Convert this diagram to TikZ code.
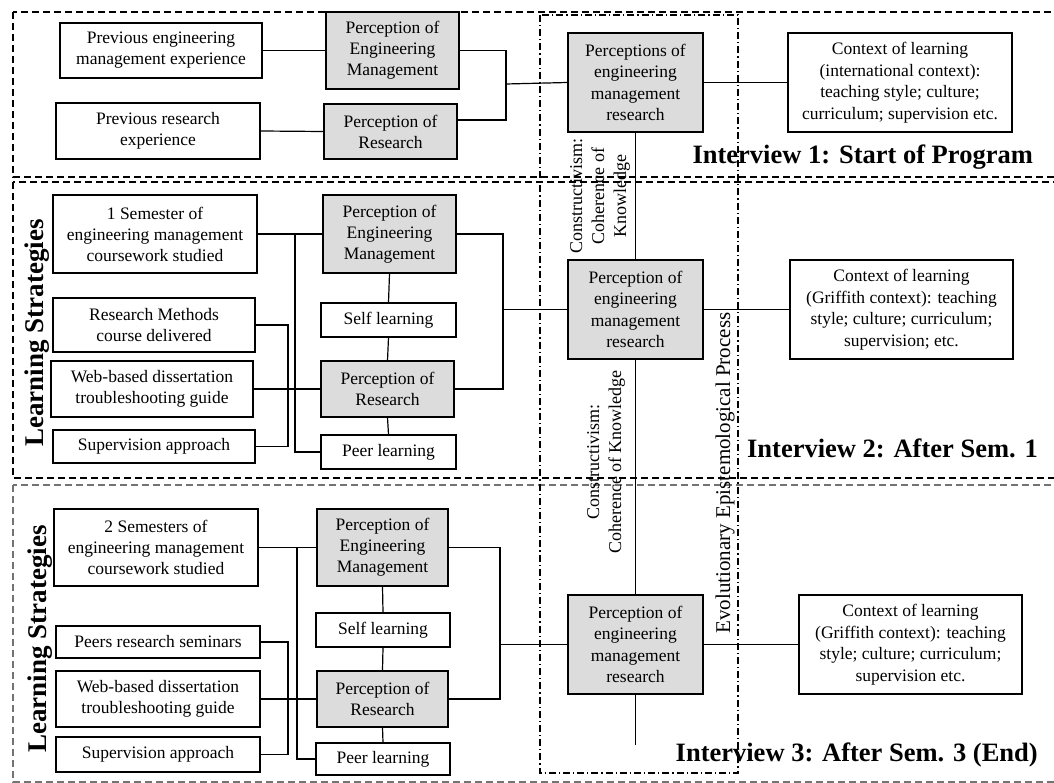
\documentclass[tikz,border=0pt]{standalone}
\usepackage{fontspec}
\setmainfont{Liberation Serif}
\definecolor{boxgray}{RGB}{220,220,220}
\begin{document}
\begin{tikzpicture}[x=1pt,y=-1pt,
  box/.style={draw, line width=1.2pt, fill=white, align=center, inner sep=0pt,
    font=\fontsize{17.5}{21}\selectfont},
  gbox/.style={box, fill=boxgray},
  cbox/.style={box, fill=boxgray, font=\fontsize{17.5}{21.5}\selectfont},
  kbox/.style={box, font=\fontsize{17.5}{21.5}\selectfont},
  conn/.style={line width=1.2pt},
  band/.style={line width=1.1pt, dash pattern=on 7pt off 4pt},
  dashdotline/.style={line width=1.1pt, dash pattern=on 7pt off 3pt on 1.2pt off 3pt},
  rotlabel/.style={rotate=90, align=center, inner sep=0pt, font=\fontsize{18}{22}\selectfont},
  ilabel/.style={anchor=east, inner sep=0pt, font=\fontsize{26.5}{30}\selectfont\bfseries},
  lslabel/.style={rotate=90, inner sep=0pt, font=\fontsize{27}{30}\selectfont\bfseries}
]
\useasboundingbox (0,0) rectangle (1054,783);
% bands
\draw[band] (13,12) rectangle (1060,177);
\draw[band] (13,182) rectangle (1060,478);
\draw[band, draw=black!55] (13,485) rectangle (1060,782);
\draw[dashdotline] (540,15) rectangle (738,773);

% ---- nodes band 1
\node[box, minimum width=202pt, minimum height=55pt] (pe1) at (161,50.5) {Previous engineering\\management experience};
\node[box, minimum width=204pt, minimum height=56pt] (px1) at (158,131) {Previous research\\experience};
\node[gbox, minimum width=133pt, minimum height=77pt] (pem1) at (392.5,50.5) {Perception of\\Engineering\\Management};
\node[gbox, minimum width=133pt, minimum height=55pt] (pr1) at (390.5,131.5) {Perception of\\Research};

% ---- center and context
\node[cbox, minimum width=135pt, minimum height=99pt] (c1) at (635.5,82.5) {Perceptions of\\engineering\\management\\research};
\node[cbox, minimum width=135pt, minimum height=99pt] (c2) at (635.5,309.5) {Perception of\\engineering\\management\\research};
\node[cbox, minimum width=135pt, minimum height=99pt] (c3) at (635.5,644.5) {Perception of\\engineering\\management\\research};
\node[kbox, minimum width=224pt, minimum height=99pt] (k1) at (900,82.5) {Context of learning\\(international context):\\teaching style; culture;\\curriculum; supervision etc.};
\node[kbox, minimum width=223pt, minimum height=99pt] (k2) at (901.5,309.5) {Context of learning\\(Griffith context): teaching\\style; culture; curriculum;\\supervision; etc.};
\node[kbox, minimum width=223pt, minimum height=99pt] (k3) at (910.5,644.5) {Context of learning\\(Griffith context): teaching\\style; culture; curriculum;\\supervision etc.};

% ---- band 2
\node[box, minimum width=204pt, minimum height=78pt] (s1) at (155,234) {1 Semester of\\engineering management\\coursework studied};
\node[box, minimum width=202pt, minimum height=54pt] (rm) at (154,325) {Research Methods\\course delivered};
\node[box, minimum width=202pt, minimum height=56pt] (wb2) at (152,389) {Web-based dissertation\\troubleshooting guide};
\node[box, minimum width=202pt, minimum height=33pt] (sa2) at (154,446.5) {Supervision approach};
\node[gbox, minimum width=133pt, minimum height=78pt] (pem2) at (389.5,234) {Perception of\\Engineering\\Management};
\node[box, minimum width=135pt, minimum height=34pt] (sl2) at (388.5,320) {Self learning};
\node[gbox, minimum width=133pt, minimum height=56pt] (pr2) at (387.5,389) {Perception of\\Research};
\node[box, minimum width=135pt, minimum height=34pt] (pl2) at (388.5,452) {Peer learning};

% ---- band 3
\node[box, minimum width=204pt, minimum height=77pt] (s3) at (156,547.5) {2 Semesters of\\engineering management\\coursework studied};
\node[box, minimum width=204pt, minimum height=32pt] (prs) at (158,642) {Peers research seminars};
\node[box, minimum width=204pt, minimum height=56pt] (wb3) at (158,699) {Web-based dissertation\\troubleshooting guide};
\node[box, minimum width=204pt, minimum height=35pt] (sa3) at (158,754.5) {Supervision approach};
\node[gbox, minimum width=131pt, minimum height=77pt] (pem3) at (382.5,547.5) {Perception of\\Engineering\\Management};
\node[box, minimum width=134pt, minimum height=34pt] (sl3) at (383,630) {Self learning};
\node[gbox, minimum width=131pt, minimum height=56pt] (pr3) at (382.5,699) {Perception of\\Research};
\node[box, minimum width=134pt, minimum height=32pt] (pl3) at (383,759) {Peer learning};

% ---- coordinates for connectors
\coordinate (r1) at (506,84);
\coordinate (r2) at (503,309.5);
\coordinate (r3) at (500,644.5);
\coordinate (j2) at (295,234);
\coordinate (v2) at (288,389);
\coordinate (j3) at (297,547.5);
\coordinate (v3) at (288,699);
\coordinate (cend) at (635.5,745);

% ---- connectors band 1
\draw[conn] (pe1.east) -- (pem1.west);
\draw[conn] (px1.east) -- (pr1.west);
\draw[conn] (pem1.east) -| (r1) |- ([yshift=11.5pt]pr1.east);
\draw[conn] (r1) -- (c1.west);
% band 2
\draw[conn] (s1.east) -- (pem2.west);
\draw[conn] (j2) |- (pl2.west);
\draw[conn] (rm.east) -| (v2) |- (sa2.east);
\draw[conn] (wb2.east) -- (pr2.west);
\draw[conn] (pem2.south) -- (sl2.north);
\draw[conn] (sl2.south) -- (pr2.north);
\draw[conn] (pr2.south) -- (pl2.north);
\draw[conn] (pem2.east) -| (r2) |- (pr2.east);
\draw[conn] (r2) -- (c2.west);
% band 3
\draw[conn] (s3.east) -- (pem3.west);
\draw[conn] (j3) |- (pl3.west);
\draw[conn] (prs.east) -| (v3) |- (sa3.east);
\draw[conn] (wb3.east) -- (pr3.west);
\draw[conn] (pem3.south) -- (sl3.north);
\draw[conn] (sl3.south) -- (pr3.north);
\draw[conn] (pr3.south) -- (pl3.north);
\draw[conn] (pem3.east) -| (r3) |- (pr3.east);
\draw[conn] (r3) -- (c3.west);
% center chain and context
\draw[conn] (c1.south) -- (c2.north);
\draw[conn] (c2.south) -- (c3.north);
\draw[conn] (c3.south) -- (cend);
\draw[conn] (c1.east) -- (k1.west);
\draw[conn] (c2.east) -- (k2.west);
\draw[conn] (c3.east) -- (k3.west);

% ---- rotated labels
\node[rotlabel] (ck1) at (600,196) {Constructivism:\\Coherence of\\Knowledge};
\node[rotlabel] (ck2) at (606,462) {Constructivism:\\Coherence of Knowledge};
\node[rotlabel, font=\fontsize{21}{24}\selectfont] (eep) at (725,473) {Evolutionary Epistemological Process};
\node[lslabel] (ls2) at (37,333) {Learning Strategies};
\node[lslabel] (ls3) at (40,639) {Learning Strategies};

% ---- interview labels
\node[ilabel] (i1) at (1033,157) {Interview 1: Start of Program};
\node[ilabel] (i2) at (1038,448) {Interview 2: After Sem. 1};
\node[ilabel] (i3) at (1038,755) {Interview 3: After Sem. 3 (End)};
\end{tikzpicture}
\end{document}
